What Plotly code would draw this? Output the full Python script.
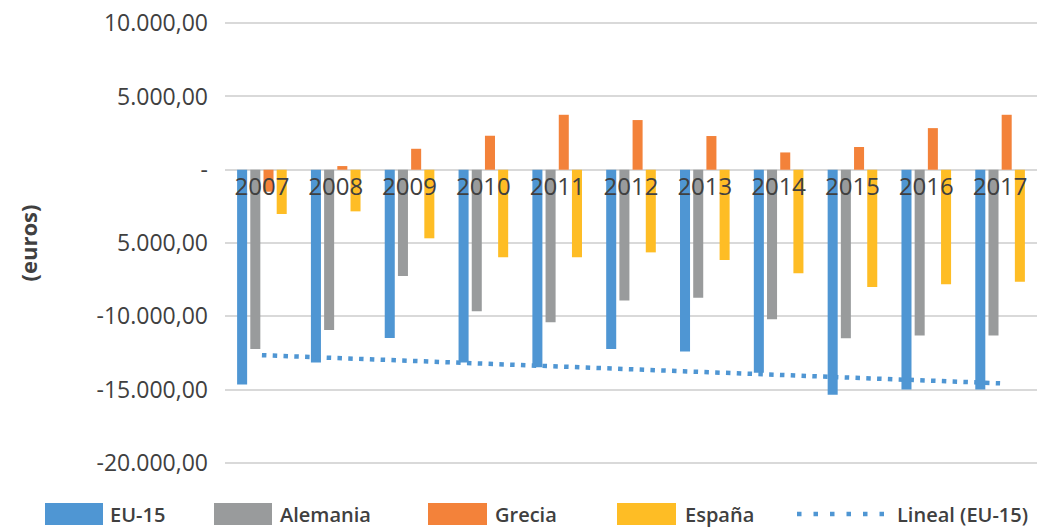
import numpy as np
import plotly.graph_objects as go

# Categories and series values (euros)
years = ["2007", "2008", "2009", "2010", "2011", "2012", "2013", "2014", "2015", "2016", "2017"]
eu15 = [-14650, -13150, -11480, -13150, -13480, -12230, -12410, -13860, -15360, -15000, -15000]
alemania = [-12230, -10930, -7250, -9660, -10410, -8930, -8730, -10200, -11500, -11320, -11320]
grecia = [-1500, 250, 1430, 2320, 3750, 3390, 2300, 1180, 1550, 2840, 3750]
espana = [-3020, -2840, -4680, -5980, -5980, -5640, -6160, -7070, -8000, -7820, -7640]

# Y-axis ticks and labels
y_ticks = [10000, 5000, 0, -5000, -10000, -15000, -20000]
y_tick_labels = ["10.000,00", "5.000,00", "-", "5.000,00", "-10.000,00", "-15.000,00", "-20.000,00"]

series_names = ["EU-15", "Alemania", "Grecia", "España"]
trend_name = "Lineal (EU-15)"

C_BLUE = "#4F96D3"
C_GRAY = "#999B9C"
C_ORANGE = "#F3823A"
C_YELLOW = "#FEBD25"
TEXT = "#404040"
GRID = "#D9D9D9"
FONT = "Open Sans"

# Linear trend of the EU-15 series
xi = np.arange(len(years))
slope, intercept = np.polyfit(xi, eu15, 1)
trend = slope * xi + intercept

fig = go.Figure()
for name, vals, col in zip(series_names, [eu15, alemania, grecia, espana],
                           [C_BLUE, C_GRAY, C_ORANGE, C_YELLOW]):
    fig.add_trace(go.Bar(x=years, y=vals, name=name, marker=dict(color=col, line=dict(width=0)),
                         showlegend=False))

fig.add_trace(go.Scatter(x=years, y=trend, mode="lines", name=trend_name, showlegend=False,
                         line=dict(color=C_BLUE, width=4.5, dash="4.5px,6.3px")))

# Value range with a small pad so the outer gridlines stay visible
Y_MIN, Y_MAX, Y_PAD = -20000, 10000, 150

# Plot-area geometry in pixels (used for the legend placed below it)
W, H = 1049, 529
L, R, T, B = 225, 12, 21, 64
pw, ph = W - L - R, H - T - B

def px_x(p):
    return (p - L) / pw

def px_y(p):
    return (H - B - p) / ph

# Legend row
legend_items = [
    ("bar", C_BLUE, 45, 103, 108, series_names[0]),
    ("bar", C_GRAY, 214, 272, 278, series_names[1]),
    ("bar", C_ORANGE, 428, 487, 493, series_names[2]),
    ("bar", C_YELLOW, 617, 676, 683, series_names[3]),
    ("line", C_BLUE, 797, 890, 895, trend_name),
]
shapes = []
annotations = []
for kind, col, x0, x1, tx, label in legend_items:
    if kind == "bar":
        shapes.append(dict(type="rect", xref="paper", yref="paper",
                           x0=px_x(x0), x1=px_x(x1), y0=px_y(525), y1=px_y(503),
                           fillcolor=col, line=dict(width=0)))
    else:
        shapes.append(dict(type="line", xref="paper", yref="paper",
                           x0=px_x(x0), x1=px_x(x1), y0=px_y(514), y1=px_y(514),
                           line=dict(color=col, width=4.5, dash="4.5px,12px")))
    annotations.append(dict(xref="paper", yref="paper", x=px_x(tx), y=px_y(514),
                            xanchor="left", yanchor="middle", showarrow=False, text=label,
                            font=dict(family=FONT, size=20, color=TEXT, weight=600)))

fig.update_layout(
    width=W, height=H,
    margin=dict(l=L, r=R, t=T, b=B, pad=0, autoexpand=False),
    paper_bgcolor="white", plot_bgcolor="white",
    barmode="group", bargap=0.285, bargroupgap=0.24,
    font=dict(family=FONT, color=TEXT),
    shapes=shapes, annotations=annotations,
    showlegend=False,
    xaxis=dict(type="category", anchor="free",
               position=(0 - (Y_MIN - Y_PAD)) / ((Y_MAX + Y_PAD) - (Y_MIN - Y_PAD)),
               automargin=False,
               showgrid=False, showline=False, zeroline=False, ticks="",
               tickfont=dict(family=FONT, size=24, color=TEXT)),
    yaxis=dict(range=[Y_MIN - Y_PAD, Y_MAX + Y_PAD], tickvals=y_ticks, ticktext=y_tick_labels,
               automargin=False,
               showgrid=True, gridcolor=GRID, gridwidth=2,
               zeroline=True, zerolinecolor=GRID, zerolinewidth=2,
               showline=False, ticks="", ticklabelstandoff=16,
               tickfont=dict(family=FONT, size=23, color=TEXT),
               title=dict(text="(euros)", standoff=52,
                          font=dict(family=FONT, size=22, color=TEXT, weight=700))),
)

fig.write_html("out.html")
